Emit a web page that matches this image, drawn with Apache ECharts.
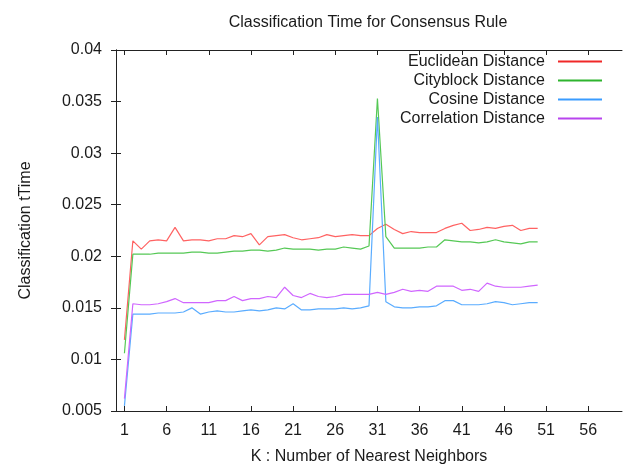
<!DOCTYPE html>
<html>
<head>
<meta charset="utf-8">
<script src="https://cdn.jsdelivr.net/npm/echarts@6/dist/echarts.min.js"></script>
<style>
  html, body { margin: 0; padding: 0; background: #ffffff; }
  #chart { width: 624px; height: 465px; }
</style>
</head>
<body>
<div id="chart"></div>
<script>
// K values (number of nearest neighbors)
var neighbors = [1, 2, 3, 4, 5, 6, 7, 8, 9, 10, 11, 12, 13, 14, 15, 16, 17, 18, 19, 20,
  21, 22, 23, 24, 25, 26, 27, 28, 29, 30, 31, 32, 33, 34, 35, 36, 37, 38, 39, 40,
  41, 42, 43, 44, 45, 46, 47, 48, 49, 50];

var euclidean = [0.0119, 0.0215, 0.0207, 0.0215, 0.0216, 0.0215, 0.0228, 0.0215, 0.0216, 0.0216,
  0.0215, 0.0217, 0.0217, 0.0220, 0.0219, 0.0222, 0.0211, 0.0219, 0.0220, 0.0221,
  0.0218, 0.0216, 0.0217, 0.0218, 0.0221, 0.0219, 0.0220, 0.0221, 0.0220, 0.0220,
  0.0227, 0.0231, 0.0226, 0.0222, 0.0224, 0.0223, 0.0223, 0.0223, 0.0227, 0.0230,
  0.0232, 0.0225, 0.0226, 0.0228, 0.0227, 0.0229, 0.0230, 0.0225, 0.0227, 0.0227];

var cityblock = [0.0106, 0.0202, 0.0202, 0.0202, 0.0203, 0.0203, 0.0203, 0.0203, 0.0204, 0.0204,
  0.0203, 0.0203, 0.0204, 0.0205, 0.0205, 0.0206, 0.0206, 0.0205, 0.0206, 0.0208,
  0.0207, 0.0207, 0.0207, 0.0206, 0.0207, 0.0207, 0.0209, 0.0208, 0.0207, 0.0210,
  0.0353, 0.0219, 0.0208, 0.0208, 0.0208, 0.0208, 0.0209, 0.0209, 0.0216, 0.0215,
  0.0214, 0.0214, 0.0213, 0.0214, 0.0216, 0.0214, 0.0213, 0.0212, 0.0214, 0.0214];

var cosine = [0.0055, 0.0144, 0.0144, 0.0144, 0.0145, 0.0145, 0.0145, 0.0146, 0.0150, 0.0144,
  0.0146, 0.0147, 0.0146, 0.0146, 0.0147, 0.0148, 0.0147, 0.0148, 0.0150, 0.0149,
  0.0154, 0.0148, 0.0148, 0.0149, 0.0149, 0.0149, 0.0150, 0.0149, 0.0150, 0.0152,
  0.0335, 0.0156, 0.0151, 0.0150, 0.0150, 0.0151, 0.0151, 0.0152, 0.0157, 0.0157,
  0.0153, 0.0153, 0.0153, 0.0154, 0.0156, 0.0155, 0.0153, 0.0154, 0.0155, 0.0155];

var correlation = [0.0062, 0.0154, 0.0153, 0.0153, 0.0154, 0.0156, 0.0159, 0.0155, 0.0155, 0.0155,
  0.0155, 0.0157, 0.0157, 0.0161, 0.0157, 0.0159, 0.0159, 0.0161, 0.0160, 0.0170,
  0.0162, 0.0160, 0.0164, 0.0161, 0.0160, 0.0161, 0.0163, 0.0163, 0.0163, 0.0163,
  0.0165, 0.0163, 0.0165, 0.0168, 0.0166, 0.0167, 0.0166, 0.0171, 0.0171, 0.0171,
  0.0167, 0.0168, 0.0166, 0.0174, 0.0171, 0.0170, 0.0170, 0.0170, 0.0171, 0.0172];

var xTicks = [1, 6, 11, 16, 21, 26, 31, 36, 41, 46, 51, 56];
var seriesNames = ['Euclidean Distance', 'Cityblock Distance', 'Cosine Distance', 'Correlation Distance'];
// plotted lines look lighter (thin anti-aliased), legend samples a bit stronger
var lineColors = ['#ff6262', '#55c855', '#5aacff', '#d066ff'];
var legendColors = ['#f02828', '#2eb42e', '#3a9cff', '#b844ee'];

var FONT = 'Liberation Sans, Arial, sans-serif';
var textColor = '#1a1a1a';
var axisColor = '#222222';

function pairs(values) {
  return values.map(function (v, i) { return [neighbors[i], v]; });
}

var allValues = [euclidean, cityblock, cosine, correlation];

var myChart = echarts.init(document.getElementById('chart'), null, { renderer: 'canvas' });

myChart.setOption({
  animation: false,
  backgroundColor: '#ffffff',
  textStyle: { fontFamily: FONT },
  title: {
    text: 'Classification Time for Consensus Rule',
    left: 363,
    top: 10,
    textAlign: 'center',
    textStyle: { fontFamily: FONT, fontSize: 16, fontWeight: 'normal', color: textColor }
  },
  legend: {
    orient: 'vertical',
    align: 'right',
    right: 22,
    top: 52,
    padding: 0,
    itemGap: 0,
    itemWidth: 44,
    itemHeight: 2,
    icon: 'rect',
    textStyle: { fontFamily: FONT, fontSize: 16, color: textColor, lineHeight: 19, padding: [0, 8, 0, 0] },
    data: seriesNames.map(function (n, i) {
      return { name: n, itemStyle: { color: legendColors[i] } };
    })
  },
  grid: { left: 116, right: 2, top: 50, bottom: 54, containLabel: false, outerBoundsMode: 'none' },
  xAxis: [{
    type: 'value',
    min: 0,
    max: 60,
    name: 'K : Number of Nearest Neighbors',
    nameLocation: 'middle',
    nameGap: 38,
    nameMoveOverlap: false,
    nameTextStyle: { fontFamily: FONT, fontSize: 16, color: textColor },
    axisLine: { lineStyle: { color: axisColor, width: 1 } },
    axisTick: { inside: true, length: 5, customValues: xTicks, lineStyle: { color: axisColor } },
    axisLabel: { customValues: xTicks, margin: 12, fontFamily: FONT, fontSize: 16, color: textColor },
    splitLine: { show: false }
  }, {
    type: 'value',
    position: 'top',
    min: 0,
    max: 60,
    axisLine: { lineStyle: { color: axisColor, width: 1 } },
    axisTick: { inside: true, length: 5, customValues: xTicks, lineStyle: { color: axisColor } },
    axisLabel: { show: false },
    splitLine: { show: false }
  }],
  yAxis: [{
    type: 'value',
    min: 0.005,
    max: 0.04,
    interval: 0.005,
    name: 'Classification tTime',
    nameLocation: 'middle',
    nameGap: 82,
    nameMoveOverlap: false,
    nameTextStyle: { fontFamily: FONT, fontSize: 16, color: textColor },
    axisLine: { show: true, lineStyle: { color: axisColor, width: 1 } },
    axisTick: { show: true, inside: true, length: 5, lineStyle: { color: axisColor } },
    axisLabel: {
      margin: 14, fontFamily: FONT, fontSize: 16, color: textColor,
      formatter: function (v) { return String(+v.toFixed(3)); }
    },
    splitLine: { show: false }
  }, {
    type: 'value',
    position: 'right',
    min: 0.005,
    max: 0.04,
    interval: 0.005,
    axisLine: { show: true, lineStyle: { color: axisColor, width: 1 } },
    axisTick: { show: true, inside: true, length: 5, lineStyle: { color: axisColor } },
    axisLabel: { show: false },
    splitLine: { show: false }
  }],
  series: seriesNames.map(function (name, i) {
    return {
      name: name,
      type: 'line',
      xAxisIndex: 0,
      yAxisIndex: 0,
      symbol: 'none',
      color: lineColors[i],
      lineStyle: { width: 1.2, color: lineColors[i] },
      data: pairs(allValues[i])
    };
  })
});
</script>
</body>
</html>
